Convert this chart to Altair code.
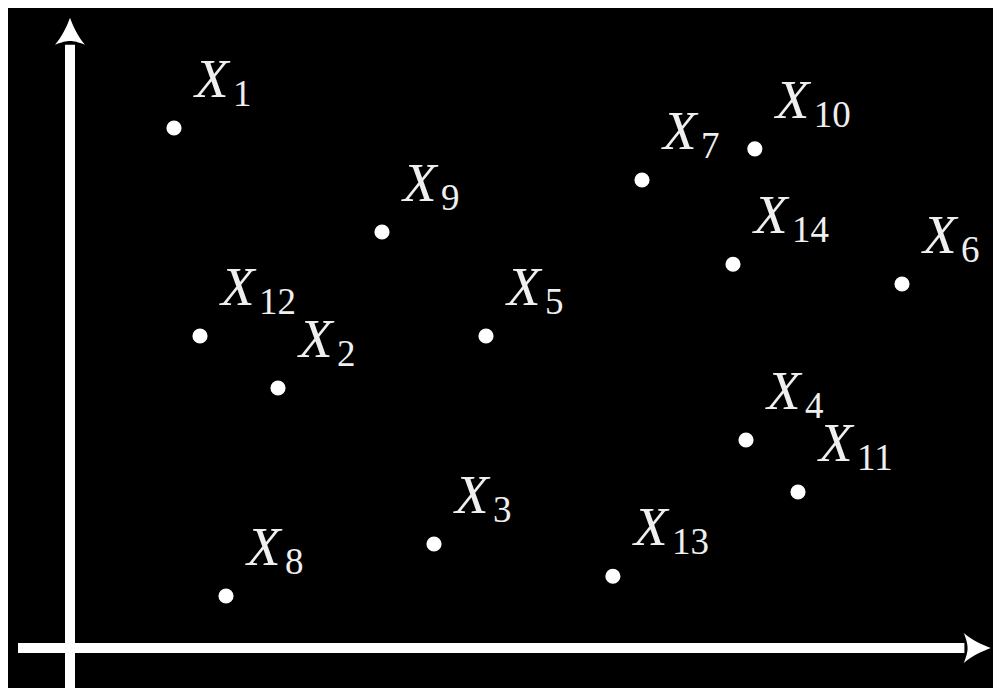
import altair as alt
import pandas as pd

# Point labels (subscripts) and positions, in grid units (1 unit = one grid step)
subs = ["1", "2", "3", "4", "5", "6", "7", "8", "9", "10", "11", "12", "13", "14"]
x_vals = [2, 4, 7, 13, 8, 16, 11, 3, 6, 13.17, 14, 2.5, 10.44, 12.75]
y_vals = [10, 5, 2, 4, 6, 7, 9, 1, 8, 9.6, 3, 6, 1.38, 7.38]

# Axis extents (data units)
x_axis_start = [-1.0]
x_axis_end = [17.2]
y_axis_start = [-0.8]
y_axis_end = [11.6]
arrow_x = [0, 17.42]
arrow_y = [11.83, 0]
arrow_angle = [0, 90]

X_DOMAIN = [-62 / 52, 923 / 52]
Y_DOMAIN = [-40 / 52, 640 / 52]

pts = pd.DataFrame({"sub": subs, "x": x_vals, "y": y_vals, "main": ["X"] * len(subs)})
vax = pd.DataFrame({"x": [0], "y": y_axis_start, "y2": y_axis_end})
hax = pd.DataFrame({"x": x_axis_start, "x2": x_axis_end, "y": [0]})
arr = pd.DataFrame({"x": arrow_x, "y": arrow_y, "angle": arrow_angle})

xs = alt.Scale(domain=X_DOMAIN, nice=False, zero=False)
ys = alt.Scale(domain=Y_DOMAIN, nice=False, zero=False)


def ex(f="x"):
    return alt.X(f, type="quantitative", scale=xs, axis=None)


def ey(f="y"):
    return alt.Y(f, type="quantitative", scale=ys, axis=None)


WHITE = "#ffffff"
TXT = "#efefef"

v_rule = alt.Chart(vax).mark_rule(color=WHITE, strokeWidth=10).encode(
    x=ex(), y=ey(), y2="y2"
)
h_rule = alt.Chart(hax).mark_rule(color=WHITE, strokeWidth=10).encode(
    x=ex(), x2="x2", y=ey()
)

ARROW = ("M0,-1 C0.2,-0.45 0.55,0.3 1,0.8 C0.55,0.62 0.25,0.55 0,0.55 "
         "C-0.25,0.55 -0.55,0.62 -1,0.8 C-0.55,0.3 -0.2,-0.45 0,-1 Z")
arrows = alt.Chart(arr).mark_point(
    shape=ARROW, filled=True, size=900, color=WHITE, opacity=1, strokeWidth=0
).encode(x=ex(), y=ey(), angle=alt.Angle("angle:Q", scale=None))

dots = alt.Chart(pts).mark_circle(size=230, color=WHITE, opacity=1).encode(
    x=ex(), y=ey()
)

main_lbl = alt.Chart(pts).mark_text(
    font="Liberation Serif", fontStyle="italic", fontSize=55,
    align="left", baseline="alphabetic", dx=21, dy=-31, color=TXT
).encode(x=ex(), y=ey(), text="main:N")

sub_lbl = alt.Chart(pts).mark_text(
    font="Liberation Serif", fontSize=37,
    align="left", baseline="alphabetic", dx=59, dy=-22, color=TXT
).encode(x=ex(), y=ey(), text="sub:N")

chart = (
    alt.layer(v_rule, h_rule, arrows, dots, main_lbl, sub_lbl)
    .properties(width=985, height=680, padding=0,
                autosize=alt.AutoSizeParams(type="none"))
    .configure(background="black")
    .configure_view(stroke=None)
)

chart.save("out.html", embed_options={"renderer": "svg", "actions": False})
